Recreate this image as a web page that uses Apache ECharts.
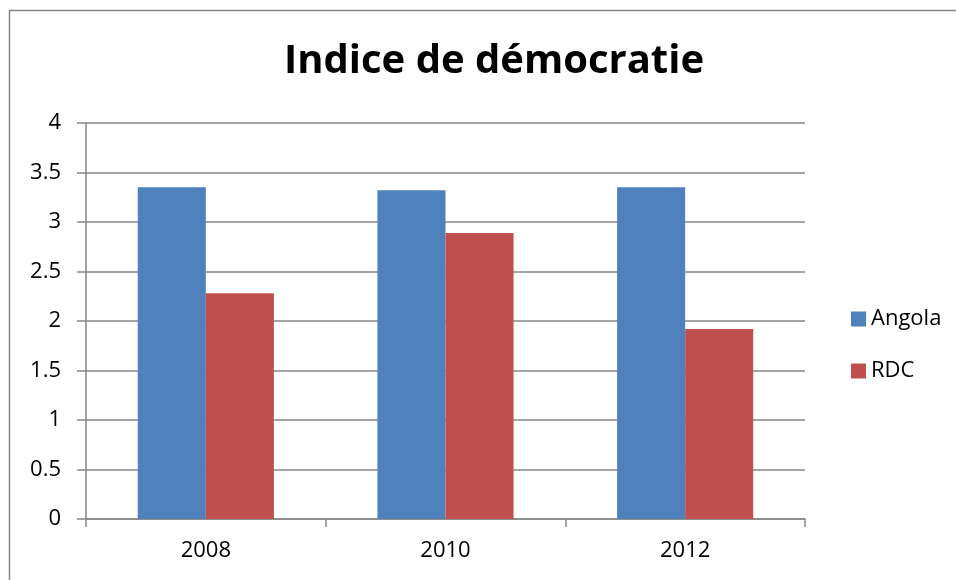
<!DOCTYPE html>
<html>
<head>
<meta charset="utf-8">
<script src="https://cdn.jsdelivr.net/npm/echarts@6/dist/echarts.min.js"></script>
<style>
html, body { margin: 0; padding: 0; background: #fff; }
#main { width: 956px; height: 580px; }
</style>
</head>
<body>
<div id="main"></div>
<script>
// données
var annees = ['2008', '2010', '2012'];
var angola = [3.35, 3.32, 3.35];
var rdc = [2.28, 2.89, 1.92];

var myChart = echarts.init(document.getElementById('main'));

var option = {
    backgroundColor: '#fff',
    animation: false,
    graphic: [{
        type: 'rect',
        shape: { x: 9.5, y: 10.5, width: 960, height: 600 },
        style: { fill: 'none', stroke: '#868686', lineWidth: 1.5 }
    }],
    title: {
        text: 'Indice de démocratie',
        left: 279,
        top: 37,
        textStyle: {
            color: '#000',
            fontSize: 40,
            fontWeight: 'bold',
            fontFamily: 'Open Sans'
        }
    },//标题
    legend: {
        orient: 'vertical',
        left: 846,
        top: 303,
        itemWidth: 15,
        itemHeight: 15,
        itemGap: 30,
        icon: 'rect',
        textStyle: { fontSize: 22, color: '#000', fontFamily: 'Open Sans' },
        data: ['Angola', 'RDC']
    },
    grid: {
        left: 86,
        right: 151,
        top: 123,
        bottom: 61
    },
    xAxis: {
        type: 'category',
        data: annees,
        axisLine: { lineStyle: { color: '#868686', width: 1.5 } },
        axisTick: { show: true, length: 8, lineStyle: { color: '#868686', width: 1.5 } },
        axisLabel: { color: '#000', fontSize: 22, fontFamily: 'Open Sans', margin: 21 }
    },
    yAxis: {
        type: 'value',
        min: 0,
        max: 4,
        interval: 0.5,
        axisLine: { show: true, lineStyle: { color: '#868686', width: 1.5 } },
        axisTick: { show: true, length: 9, lineStyle: { color: '#868686', width: 1.5 } },
        axisLabel: { color: '#000', fontSize: 22, fontFamily: 'Open Sans', margin: 25 },
        splitLine: { lineStyle: { color: '#868686', width: 1.5 } }
    },
    series: [{
        name: 'Angola',
        type: 'bar',
        data: angola,
        barWidth: '28.4%',
        barGap: '0%',
        itemStyle: { color: '#4F81BD' }
    }, {
        name: 'RDC',
        type: 'bar',
        data: rdc,
        barWidth: '28.4%',
        itemStyle: { color: '#C0504D' }
    }]
};

myChart.setOption(option);
window.onresize = function () {
    myChart.resize();
};
</script>
</body>
</html>
